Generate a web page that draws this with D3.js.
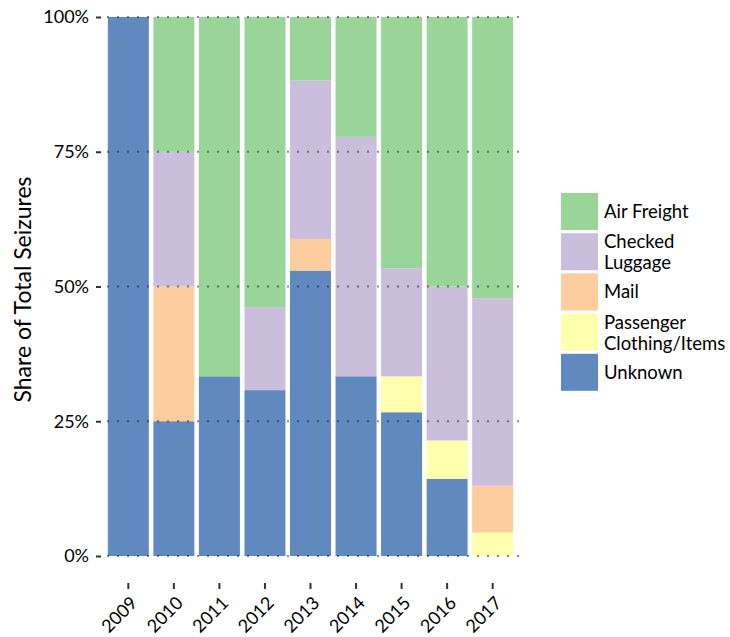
<!DOCTYPE html>
<html><head><meta charset="utf-8">
<script src="https://cdn.jsdelivr.net/npm/d3@7"></script>
<style>body{margin:0;background:#fff}svg{display:block}text{font-family:Lato,"Open Sans",sans-serif;fill:#000}</style>
</head><body><div id="chart"></div>
<script>
const years = ["2009","2010","2011","2012","2013","2014","2015","2016","2017"];
const categories = ["Air Freight","Checked Luggage","Mail","Passenger Clothing/Items","Unknown"];
const legendLabels = [["Air Freight"],["Checked","Luggage"],["Mail"],["Passenger","Clothing/Items"],["Unknown"]];
const colors = ["#7fc97f","#beaed4","#fdc086","#ffff99","#386cb0"];
// counts per year (shares derived from them)
const airFreight      = [0, 1, 2, 7, 2, 2, 7, 7, 12];
const checkedLuggage  = [0, 1, 0, 2, 5, 4, 3, 4, 8];
const mail            = [0, 1, 0, 0, 1, 0, 0, 0, 2];
const passenger       = [0, 0, 0, 0, 0, 0, 1, 1, 1];
const unknown         = [1, 1, 1, 4, 9, 3, 4, 2, 0];
const yTicks = [0, 0.25, 0.5, 0.75, 1];

(function(){
const series = [airFreight, checkedLuggage, mail, passenger, unknown];
const rows = years.map((yr,i)=>{
  const r = {year:yr};
  const tot = d3.sum(series, s=>s[i]);
  categories.forEach((c,k)=>{ r[c] = series[k][i]/tot; });
  return r;
});
const stack = d3.stack().keys(categories.slice().reverse())(rows);

const W=730,H=637;
const svg=d3.select("#chart").append("svg").attr("width",W).attr("height",H);
const pL=101,pR=520,pT=17,pB=556;
const x=d3.scaleBand().domain(years).range([pL,pR]).paddingInner(0.1).paddingOuter(0.15);
const y=d3.scaleLinear().domain([0,1]).range([pB,pT]);
const color=d3.scaleOrdinal().domain(categories).range(colors);

svg.append("g").selectAll("g").data(stack).join("g")
  .attr("fill",d=>color(d.key)).attr("fill-opacity",0.8)
  .selectAll("rect").data(d=>d).join("rect")
  .attr("x",d=>x(d.data.year)).attr("width",x.bandwidth())
  .attr("y",d=>y(d[1])).attr("height",d=>Math.max(0,y(d[0])-y(d[1])));

svg.append("g").selectAll("line").data(yTicks).join("line")
  .attr("x1",pL+6).attr("x2",pR).attr("y1",d=>y(d)).attr("y2",d=>y(d))
  .attr("stroke","#000").attr("stroke-opacity",0.45).attr("stroke-width",2)
  .attr("stroke-dasharray","2,8");

const yAxis=d3.axisLeft(y).tickValues(yTicks).tickFormat(d3.format(".0%")).tickSize(5).tickPadding(7);
const ga=svg.append("g").attr("transform",`translate(${pL},0)`).call(yAxis);
ga.select(".domain").remove();
ga.selectAll(".tick line").attr("stroke","#333").attr("stroke-width",2);
ga.selectAll("text").style("font-size","18px").attr("fill","#000");

const xAxis=d3.axisBottom(x).tickSize(6).tickPadding(0);
const gx=svg.append("g").attr("transform",`translate(0,583)`).call(xAxis);
gx.select(".domain").remove();
gx.selectAll(".tick line").attr("stroke","#333").attr("stroke-width",2);
gx.selectAll("text").style("font-size","18px").attr("fill","#000")
  .attr("text-anchor","end").attr("y",0).attr("dy","0.72em")
  .attr("transform","translate(1,12) rotate(-45)");

svg.append("text").attr("transform",`translate(31,${(pT+pB)/2 + 3}) rotate(-90)`)
  .attr("text-anchor","middle").style("font-size","23px").text("Share of Total Seizures");

const lg=svg.append("g").attr("transform","translate(561,193)");
const item=lg.selectAll("g").data(categories).join("g").attr("transform",(d,i)=>`translate(0,${i*40.2})`);
item.append("rect").attr("width",37).attr("height",37).attr("fill",d=>color(d)).attr("fill-opacity",0.8);
item.append("text").style("font-size","18.5px")
  .each(function(d,i){
    const ls=legendLabels[i], t=d3.select(this);
    const y0 = ls.length===1 ? 25 : 15;
    ls.forEach((l,j)=>t.append("tspan").attr("x",43).attr("y",y0+j*21).text(l));
  });
})();
</script></body></html>
